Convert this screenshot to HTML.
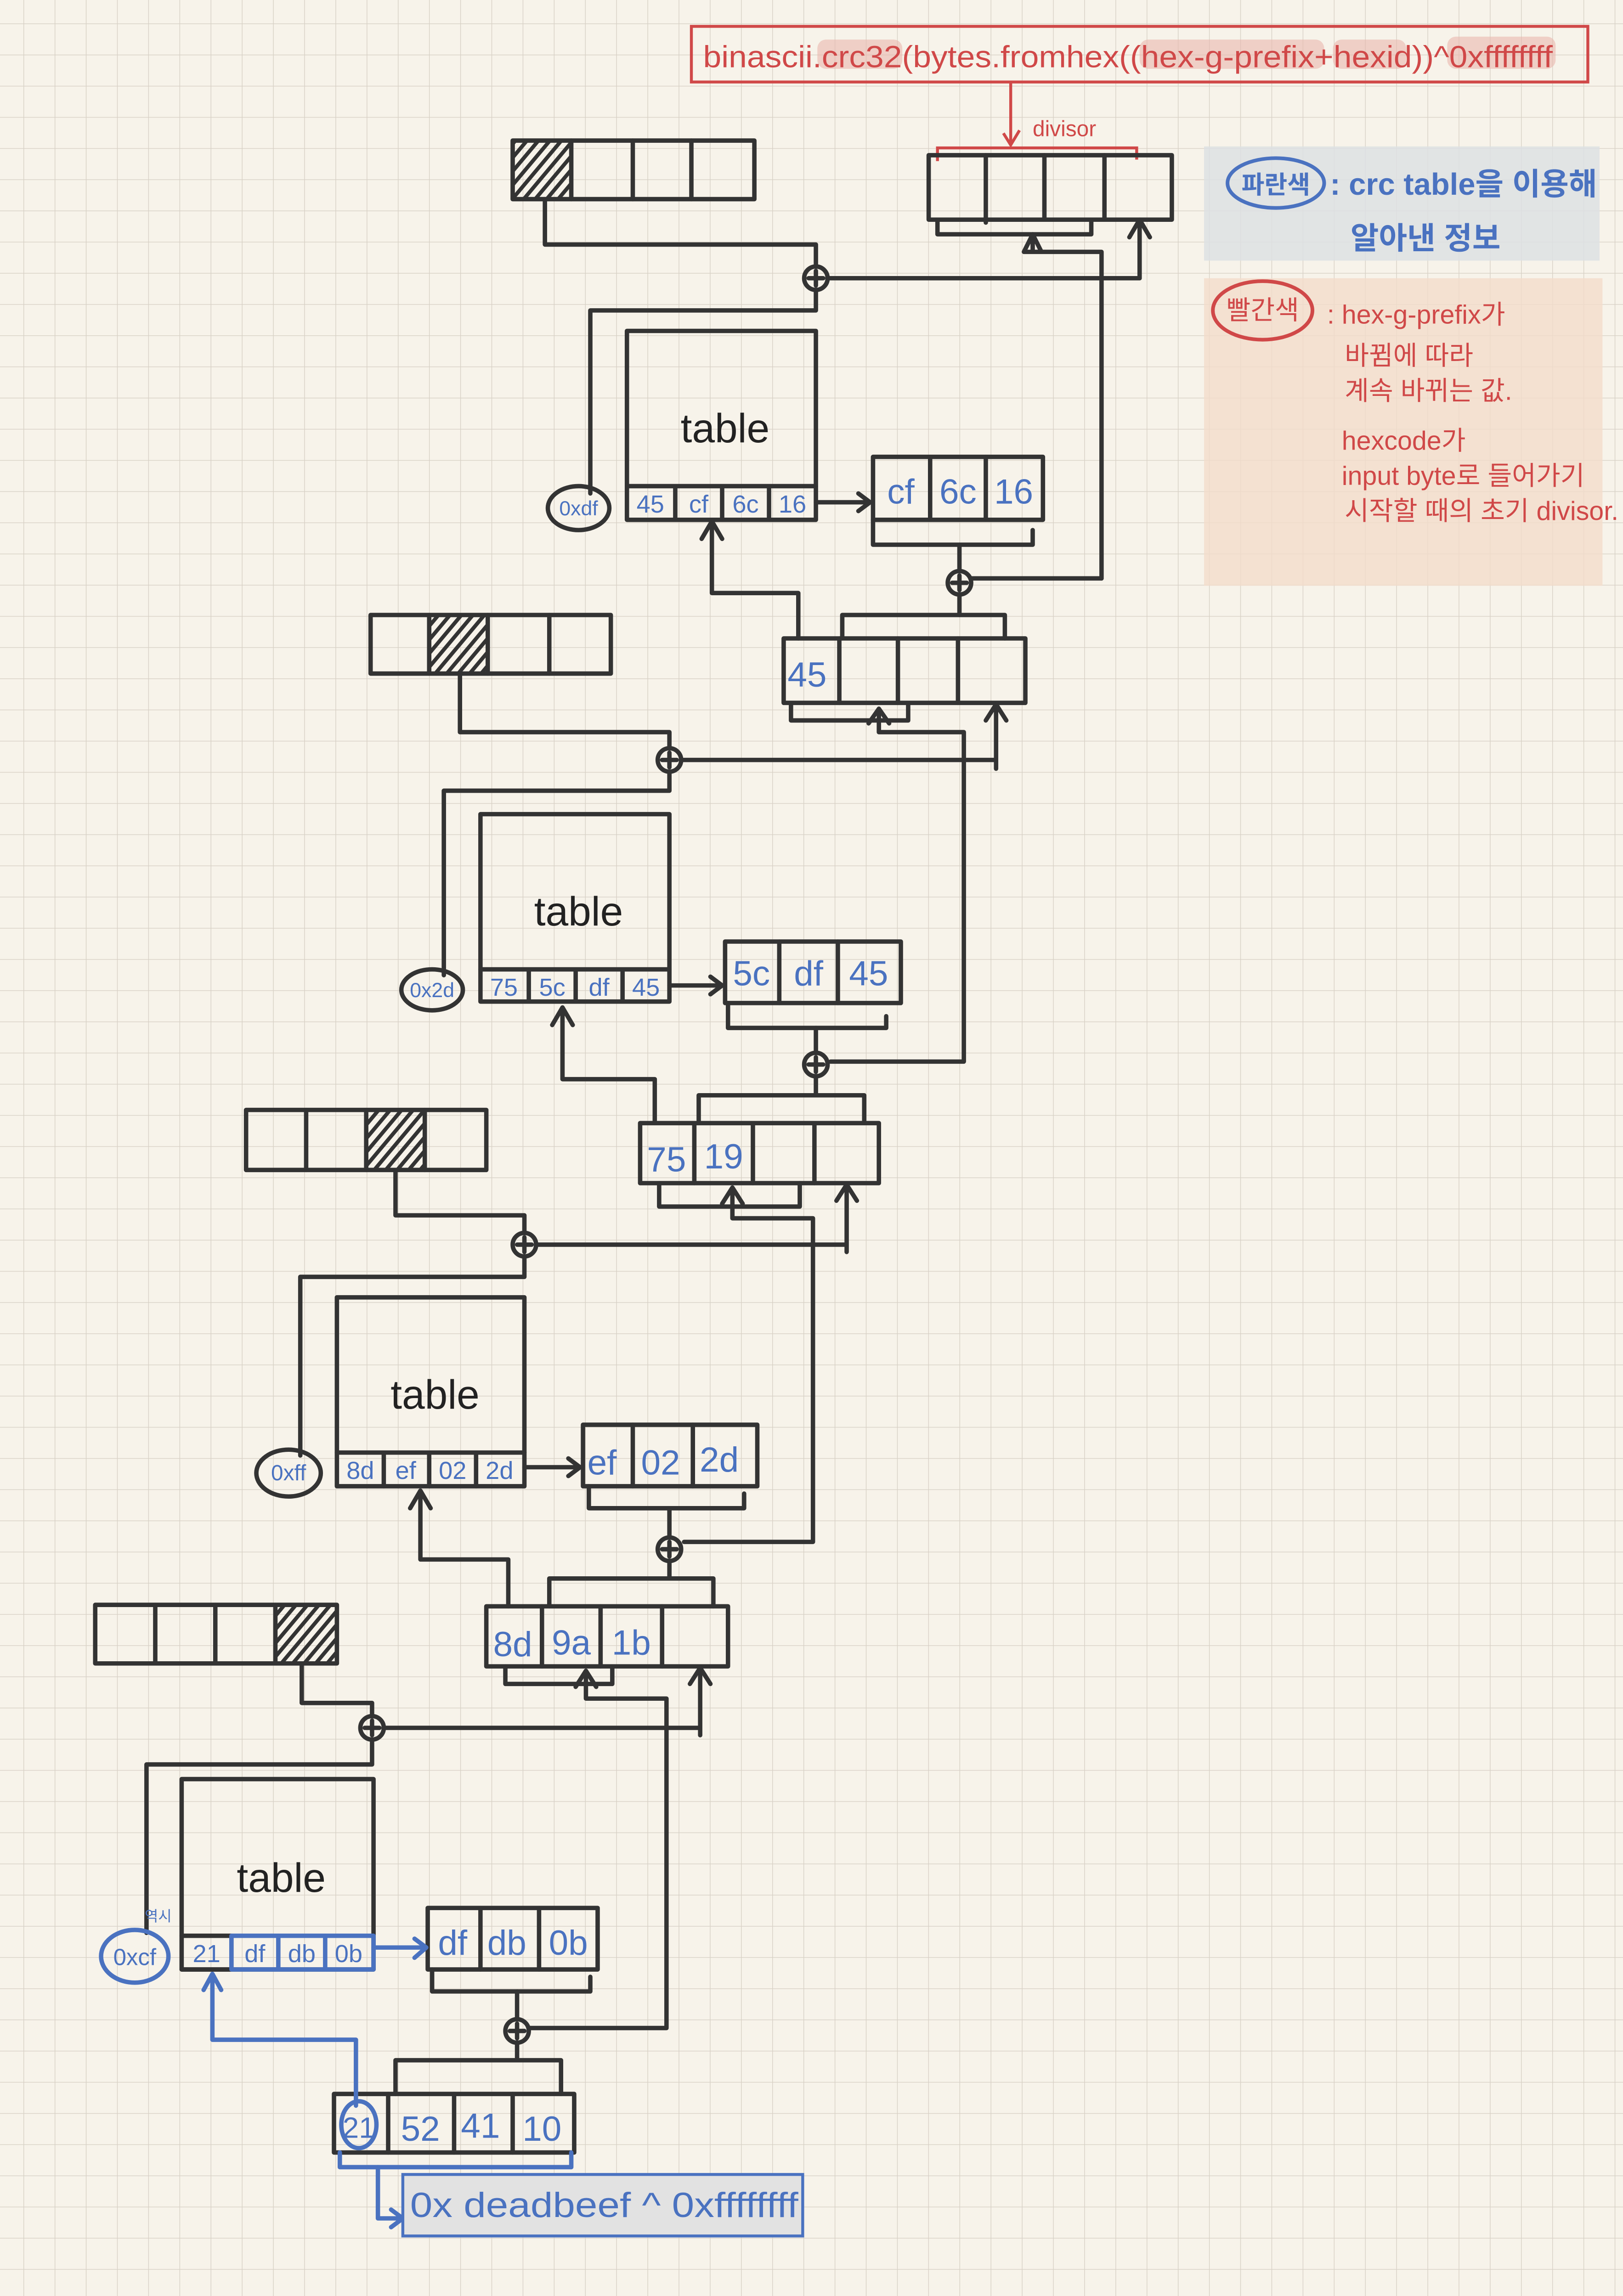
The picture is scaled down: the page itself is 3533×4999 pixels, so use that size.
<!DOCTYPE html>
<html><head><meta charset="utf-8"><style>
html,body{margin:0;padding:0;background:#f7f3ea;}
svg{display:block;}
text{font-family:"Liberation Sans Narrow","Liberation Sans","Noto Sans CJK KR",sans-serif;}
</style></head><body>
<svg xmlns="http://www.w3.org/2000/svg" width="3533" height="4999" viewBox="0 0 1108 1568" preserveAspectRatio="none">
<defs>
<pattern id="g" x="16" y="16" width="21.3" height="21.3" patternUnits="userSpaceOnUse">
<path d="M0 0H21.3M0 0V21.3" stroke="#d8d1c6" stroke-width="0.9" fill="none"/>
</pattern>
<pattern id="h" width="6" height="6" patternUnits="userSpaceOnUse" patternTransform="rotate(40)">
<rect width="2.6" height="6" fill="#333"/>
</pattern>
</defs>
<rect width="1108" height="1568" fill="#f7f3ea"/>
<rect width="1108" height="1568" fill="url(#g)"/>

<!-- legend backgrounds -->
<rect x="822" y="100" width="270" height="78" fill="#dde1e3" opacity="0.85"/>
<rect x="822" y="190" width="272" height="210" fill="#f3dccb" opacity="0.8"/>

<!-- top formula -->
<rect x="472" y="18" width="612" height="38" fill="none" stroke="#d04848" stroke-width="2"/>
<rect x="558" y="27" width="58" height="20" fill="#e9b7ae" opacity="0.6" rx="6"/>
<rect x="778" y="27" width="126" height="20" fill="#e9b7ae" opacity="0.6" rx="6"/>
<rect x="910" y="27" width="50" height="20" fill="#e9b7ae" opacity="0.6" rx="6"/>
<rect x="988" y="25" width="74" height="22" fill="#e9b7ae" opacity="0.6" rx="6"/>
<text x="480" y="46" font-size="21" fill="#d04848" textLength="580" lengthAdjust="spacingAndGlyphs">binascii.crc32(bytes.fromhex((hex-g-prefix+hexid))^0xffffffff</text>
<g stroke="#d04848" stroke-width="2" fill="none">
<path d="M690 56V98M685 91L690 99L696 89"/>
<path d="M640 110V101H776V109"/>
</g>
<text x="705" y="93" font-size="15" fill="#d04848">divisor</text>

<g stroke="#333" stroke-width="3" fill="none" stroke-linecap="round" stroke-linejoin="round">
<rect x="634" y="106" width="166" height="44"/>
<path d="M673 106V152M713 106V150M754 106V150"/>
<path d="M640 150V160H745V150"/>
<path d="M699 172H752V395M705 162V172M699 172L705 160L711 172"/>
<path d="M778 190V152M771 162L778 150L785 162"/>
<path d="M565 190H778"/>

<rect x="350" y="96" width="165" height="40"/>
<rect x="351" y="97" width="39" height="38" fill="url(#h)" stroke="none"/>
<path d="M390 96V136M432 96V136M472 96V136"/>
<path d="M372 136V167H557V182"/>
<circle cx="557" cy="190" r="8"/><path d="M552 190H562M557 185V195"/>
<path d="M557 198V212H403V337"/>
<rect x="428" y="226" width="129" height="129"/>
<path d="M428 332H557M461 332V355M493 332V355M525 332V355"/>
<path d="M557 343H593M586 337L594 343L586 349"/>
<rect x="596" y="312" width="116" height="43"/>
<path d="M635 312V355M673 312V355"/>
<path d="M596 355V372H705V362"/>
<path d="M655 372V390"/>
<circle cx="655" cy="398" r="8"/><path d="M650 398H660M655 393V403"/>
<path d="M663 395H752"/>
<path d="M655 406V420"/>
<path d="M575 436V420H686V436"/>
<rect x="535" y="436" width="165" height="44"/>
<path d="M573 436V480M613 436V480M654 436V480"/>
<path d="M545 436V405H486V358M479 368L486 356L493 368"/>
<path d="M540 480V492H620V480"/>
<path d="M600 500V484M593 494L600 484L607 494M600 500H658V725H567"/>
<path d="M680 525V482M673 492L680 481L687 492M465 519H680"/>

<rect x="253" y="420" width="164" height="40"/>
<rect x="294" y="421" width="39" height="38" fill="url(#h)" stroke="none"/>
<path d="M293 420V460M333 420V460M375 420V460"/>
<path d="M314 460V500H457V511"/>
<circle cx="457" cy="519" r="8"/><path d="M452 519H462M457 514V524"/>
<path d="M457 527V540H303V666"/>
<rect x="328" y="556" width="129" height="128"/>
<path d="M328 662H457M361 662V684M393 662V684M425 662V684"/>
<path d="M457 673H492M485 667L493 673L485 679"/>
<rect x="495" y="643" width="120" height="42"/>
<path d="M532 643V685M572 643V685"/>
<path d="M497 685V702H605V694"/>
<path d="M557 702V719"/>
<circle cx="557" cy="727" r="8"/><path d="M552 727H562M557 722V732"/>
<path d="M557 735V748M477 767V748H590V767"/>
<rect x="437" y="767" width="163" height="41"/>
<path d="M474 767V808M514 767V808M556 767V808"/>
<path d="M447 767V737H384V690M377 700L384 688L391 700"/>
<path d="M450 808V824H546V808"/>
<path d="M500 832V812M493 822L500 811L507 822M500 832H555V1053H467"/>
<path d="M578 855V810M571 820L578 809L585 820M367 850H578"/>

<rect x="168" y="758" width="164" height="41"/>
<rect x="251" y="759" width="39" height="39" fill="url(#h)" stroke="none"/>
<path d="M209 758V799M250 758V799M290 758V799"/>
<path d="M270 799V830H358V842"/>
<circle cx="358" cy="850" r="8"/><path d="M353 850H363M358 845V855"/>
<path d="M358 858V872H205V994"/>
<rect x="230" y="886" width="128" height="129"/>
<path d="M230 992H358M262 992V1015M293 992V1015M325 992V1015"/>
<path d="M358 1002H395M388 996L396 1002L388 1008"/>
<rect x="398" y="973" width="119" height="42"/>
<path d="M432 973V1015M473 973V1015"/>
<path d="M402 1015V1030H508V1020"/>
<path d="M457 1030V1050"/>
<circle cx="457" cy="1058" r="8"/><path d="M452 1058H462M457 1053V1063"/>
<path d="M457 1066V1078M375 1097V1078H487V1097"/>
<rect x="332" y="1097" width="165" height="41"/>
<path d="M370 1097V1138M410 1097V1138M452 1097V1138"/>
<path d="M347 1097V1065H287V1020M280 1030L287 1018L294 1030"/>
<path d="M345 1138V1150H418V1138"/>
<path d="M400 1160V1142M393 1152L400 1141L407 1152M400 1160H455V1385H362"/>
<path d="M478 1185V1140M471 1150L478 1139L485 1150M263 1180H478"/>

<rect x="65" y="1096" width="165" height="40"/>
<rect x="189" y="1097" width="40" height="38" fill="url(#h)" stroke="none"/>
<path d="M106 1096V1136M147 1096V1136M188 1096V1136"/>
<path d="M206 1136V1163H254V1172"/>
<circle cx="254" cy="1180" r="8"/><path d="M249 1180H259M254 1175V1185"/>
<path d="M254 1188V1205H100V1320"/>
<rect x="124" y="1215" width="131" height="130"/>
<path d="M124 1322H158M124 1345H158M158 1322V1345"/>
<rect x="292" y="1303" width="116" height="42"/>
<path d="M328 1303V1345M368 1303V1345"/>
<path d="M295 1345V1360H403V1350"/>
<path d="M353 1360V1379"/>
<circle cx="353" cy="1387" r="8"/><path d="M348 1387H358M353 1382V1392"/>
<path d="M353 1395V1407M270 1430V1407H383V1430"/>
<rect x="228" y="1430" width="164" height="40"/>
<path d="M265 1430V1470M310 1430V1470M350 1430V1470"/>
</g>

<g stroke="#4a72c0" stroke-width="3" fill="none" stroke-linecap="round" stroke-linejoin="round">
<rect x="158" y="1322" width="97" height="23"/>
<path d="M190 1322V1345M222 1322V1345"/>
<path d="M255 1330H290M283 1324L291 1330L283 1337"/>
<ellipse cx="92" cy="1336" rx="23" ry="18"/>
<ellipse cx="245" cy="1451" rx="12" ry="16"/>
<path d="M243 1438V1393H145V1350M139 1359L145 1348L151 1359"/>
<path d="M232 1470V1480H390V1470"/>
<path d="M258 1480V1515H273M267 1509L275 1515L267 1521"/>
</g>
<rect x="275" y="1485" width="273" height="42" fill="#e2e2e2" stroke="#4a72c0" stroke-width="2"/>

<g stroke="#333" stroke-width="3" fill="none">
<ellipse cx="395" cy="347" rx="21" ry="15"/>
<ellipse cx="295" cy="676" rx="21" ry="14"/>
<ellipse cx="197" cy="1006" rx="22" ry="16"/>
</g>

<g font-size="28" fill="#222" text-anchor="middle">
<text x="495" y="302">table</text>
<text x="395" y="632">table</text>
<text x="297" y="962">table</text>
<text x="192" y="1292">table</text>
</g>

<g fill="#4a72c0" text-anchor="middle">
<g font-size="17">
<text x="444" y="350">45</text><text x="477" y="350">cf</text><text x="509" y="350">6c</text><text x="541" y="350">16</text>
<text x="344" y="680">75</text><text x="377" y="680">5c</text><text x="409" y="680">df</text><text x="441" y="680">45</text>
<text x="246" y="1010">8d</text><text x="277" y="1010">ef</text><text x="309" y="1010">02</text><text x="341" y="1010">2d</text>
<text x="141" y="1340">21</text><text x="174" y="1340">df</text><text x="206" y="1340">db</text><text x="238" y="1340">0b</text>
<text x="395" y="352" font-size="14">0xdf</text>
<text x="295" y="681" font-size="14">0x2d</text>
<text x="197" y="1011" font-size="15">0xff</text>
<text x="92" y="1342" font-size="16">0xcf</text>
</g>
<g font-size="24">
<text x="615" y="344">cf</text><text x="654" y="344">6c</text><text x="692" y="344">16</text>
<text x="551" y="469">45</text>
<text x="513" y="673">5c</text><text x="552" y="673">df</text><text x="593" y="673">45</text>
<text x="455" y="800">75</text><text x="494" y="798">19</text>
<text x="411" y="1007">ef</text><text x="451" y="1007">02</text><text x="491" y="1005">2d</text>
<text x="350" y="1131">8d</text><text x="390" y="1130">9a</text><text x="431" y="1130">1b</text>
<text x="309" y="1335">df</text><text x="346" y="1335">db</text><text x="388" y="1335">0b</text>
<text x="245" y="1460" font-size="20">21</text><text x="287" y="1462">52</text><text x="328" y="1460">41</text><text x="370" y="1462">10</text>
</g>
<text x="280" y="1514" font-size="24" text-anchor="start" textLength="265" lengthAdjust="spacingAndGlyphs">0x deadbeef ^ 0xffffffff</text>
<text x="108" y="1312" font-size="10">역시</text>
</g>

<ellipse cx="871" cy="125" rx="33" ry="17" fill="none" stroke="#4a72c0" stroke-width="2.5"/>
<g fill="#4a72c0" font-weight="bold">
<text x="871" y="132" font-size="17" text-anchor="middle">파란색</text>
<text x="908" y="133" font-size="21">: crc table을 이용해</text>
<text x="922" y="170" font-size="21">알아낸 정보</text>
</g>
<ellipse cx="862" cy="212" rx="34" ry="20" fill="none" stroke="#d04848" stroke-width="2.5"/>
<g fill="#d04848" font-size="18">
<text x="862" y="218" text-anchor="middle">빨간색</text>
<text x="906" y="221">: hex-g-prefix가</text>
<text x="918" y="249">바뀜에 따라</text>
<text x="918" y="273">계속 바뀌는 값.</text>
<text x="916" y="307">hexcode가</text>
<text x="916" y="331">input byte로 들어가기</text>
<text x="918" y="355">시작할 때의 초기 divisor.</text>
</g>
</svg>
</body></html>
